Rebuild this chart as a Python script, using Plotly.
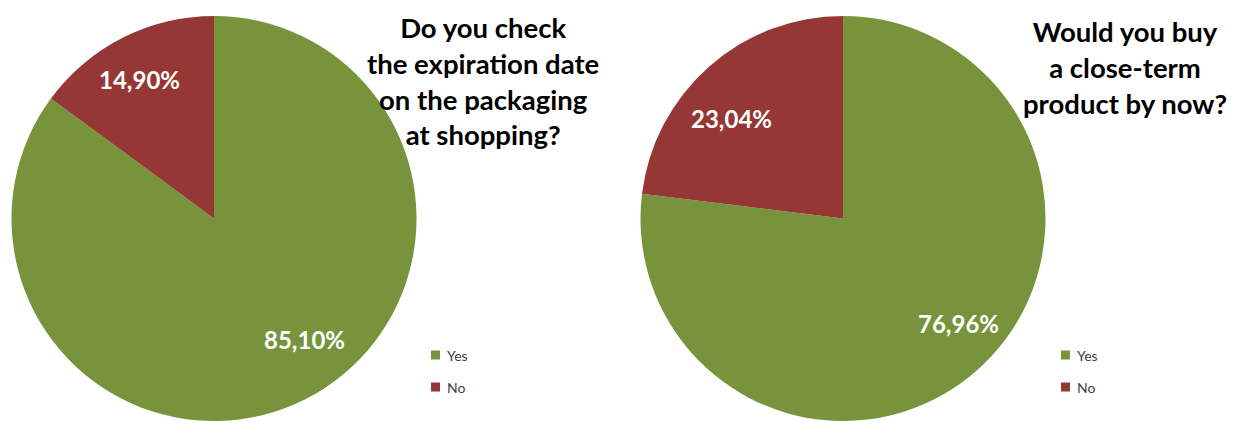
import plotly.graph_objects as go

W, H = 1234, 421

categories = ["Yes", "No"]
check_expiry = [85.10, 14.90]
buy_close_term = [76.96, 23.04]
titles = ["Do you check<br>the expiration date<br>on the packaging<br>at shopping?",
          "Would you buy<br>a close-term<br>product by now?"]
colors = ["#77933C", "#953735"]

FONT = "Lato, Carlito, Calibri, sans-serif"

def px(x):
    return x / W

def py(y):
    return 1 - y / H

fig = go.Figure()

pie_domains_x = [[px(0), px(428)], [px(629), px(1057)]]
dom_y = [0, py(16)]
for vals, dx in zip([check_expiry, buy_close_term], pie_domains_x):
    fig.add_trace(go.Pie(
        labels=categories, values=vals, sort=False, direction="clockwise",
        rotation=0, marker=dict(colors=colors, line=dict(width=0)),
        textinfo="none", showlegend=False, hoverinfo="label+percent",
        domain=dict(x=dx, y=dom_y),
    ))

# data labels (text from the data)
label_pos = [[(304, 339), (139, 80)], [(958, 323), (732, 118)]]
for vals, poss in zip([check_expiry, buy_close_term], label_pos):
    for v, (x, y) in zip(vals, poss):
        fig.add_annotation(
            x=px(x), y=py(y), xref="paper", yref="paper",
            text=f"{v:.2f}".replace(".", ",") + "%", showarrow=False,
            font=dict(family=FONT, size=24, color="white", weight="bold"),
            xanchor="center", yanchor="middle",
        )

# titles
title_pos = [(483, 81), (1125, 68)]
for t, (x, y) in zip(titles, title_pos):
    fig.add_annotation(
        x=px(x), y=py(y), xref="paper", yref="paper", text=t, showarrow=False,
        font=dict(family=FONT, size=27.5, color="black", weight="bold"),
        xanchor="center", yanchor="middle", align="center",
    )

# legends
legend_x = [431, 1061]
legend_y = [355, 387]
for lx in legend_x:
    for cat, col, ly in zip(categories, colors, legend_y):
        fig.add_shape(type="rect", xref="paper", yref="paper",
                      x0=px(lx), x1=px(lx + 9), y0=py(ly + 4.5), y1=py(ly - 4.5),
                      fillcolor=col, line=dict(width=0))
        fig.add_annotation(
            x=px(lx + 14), y=py(ly), xref="paper", yref="paper", text=cat,
            showarrow=False, font=dict(family=FONT, size=14, color="#404040"),
            xanchor="left", yanchor="middle",
        )

fig.update_layout(
    width=W, height=H, margin=dict(l=0, r=0, t=0, b=0),
    paper_bgcolor="white", plot_bgcolor="white",
)

fig.write_html("out.html")
